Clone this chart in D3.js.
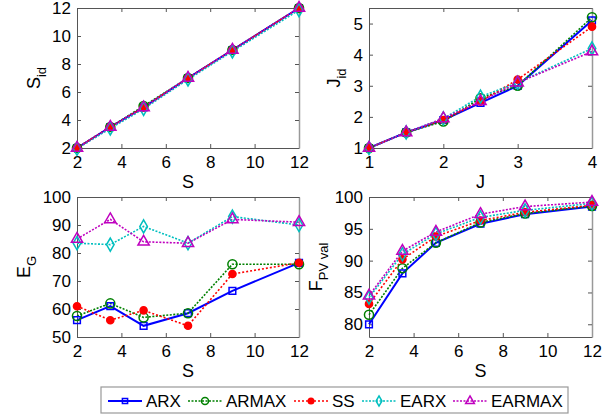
<!DOCTYPE html>
<html>
<head>
<meta charset="utf-8">
<script src="https://cdn.jsdelivr.net/npm/d3@7"></script>
<style>
  body { margin: 0; background: #fff; }
  text { font-family: "Liberation Sans", Arial, sans-serif; fill: #000; }
</style>
</head>
<body>
<div id="wrapper"></div>
<script>
// series names
const names = ["ARX", "ARMAX", "SS", "EARX", "EARMAX"]

// x values
const sVals = [2, 3.5, 5, 7, 9, 12]
const jVals = [1, 1.5, 2, 2.5, 3, 4]

// S_id vs S
const sid = [
  [2, 3.5, 4.9, 7, 9, 12],
  [2, 3.5, 5, 7, 9, 12],
  [2, 3.5, 4.9, 7, 9, 12],
  [1.95, 3.4, 4.8, 6.9, 8.9, 11.85],
  [2, 3.5, 4.9, 7, 9, 12],
]

// J_id vs J
const jid = [
  [1, 1.5, 1.9, 2.45, 3.0, 5.1],
  [1, 1.5, 1.85, 2.6, 3.0, 5.2],
  [1, 1.5, 1.9, 2.5, 3.2, 4.9],
  [1, 1.5, 1.95, 2.65, 3.1, 4.2],
  [1, 1.5, 1.95, 2.5, 3.1, 4.1],
]

// E_G vs S
const eg = [
  [56, 61, 54, 58.5, 66.5, 76.5],
  [57.5, 62, 57, 58.5, 76, 76],
  [61, 56, 59.5, 54, 72.5, 76.5],
  [83.5, 83, 89.5, 83.5, 93, 90],
  [85, 92, 84, 83.5, 92, 91],
]

// F_PV val vs S
const fpv = [
  [80, 88, 92.8, 95.8, 97.3, 98.5],
  [81.5, 88.8, 92.8, 96, 97.4, 98.6],
  [83.2, 90.2, 93.8, 96.3, 97.6, 98.7],
  [84.2, 91, 94.2, 96.8, 97.9, 99],
  [84.5, 91.5, 94.5, 97.3, 98.5, 99.2],
]

const colors = ["#0000ff", "#008000", "#ff0000", "#00bfbf", "#bf00bf"]
const dashes = [null, "2,1.5", "2,2", "2,1.5", "2,1.5"]
const symbols = [d3.symbolSquare, d3.symbolCircle, d3.symbolCircle, d3.symbolDiamond, d3.symbolTriangle]
const symSize = [45, 65, 40, 50, 55]
const symFilled = [false, false, true, false, false]

const width = 614
const height = 418

const svg = d3.select("#wrapper").append("svg")
  .attr("width", width)
  .attr("height", height)

const fmt = d3.format("d")

function drawPanel(opts) {
  const { left, right, top, bottom, xDomain, yDomain, xTicks, yTicks, xs, data, xLabel, yLabel, ySub, yLabelX } = opts

  const xScale = d3.scaleLinear().domain(xDomain).range([left, right])
  const yScale = d3.scaleLinear().domain(yDomain).range([bottom, top])

  const g = svg.append("g")

  // ticks inward, matlab style
  const xAxis = g.append("g")
    .attr("transform", `translate(0,${bottom})`)
    .call(d3.axisBottom(xScale).tickValues(xTicks).tickFormat(fmt).tickSizeInner(-4).tickSizeOuter(0).tickPadding(8))
  const xAxisTop = g.append("g")
    .attr("transform", `translate(0,${top})`)
    .call(d3.axisTop(xScale).tickValues(xTicks).tickSizeInner(-4).tickSizeOuter(0).tickFormat(""))
  const yAxis = g.append("g")
    .attr("transform", `translate(${left},0)`)
    .call(d3.axisLeft(yScale).tickValues(yTicks).tickFormat(fmt).tickSizeInner(-4).tickSizeOuter(0).tickPadding(6))
  const yAxisRight = g.append("g")
    .attr("transform", `translate(${right},0)`)
    .call(d3.axisRight(yScale).tickValues(yTicks).tickSizeInner(-4).tickSizeOuter(0).tickFormat(""))

  ;[xAxis, xAxisTop, yAxis, yAxisRight].forEach(a => {
    a.select(".domain").attr("stroke", "#555").attr("stroke-width", 1)
    a.selectAll(".tick line").attr("stroke", "#555")
    a.selectAll("text").attr("font-size", 17).attr("fill", "#000")
      .style("font-family", '"Liberation Sans", Arial, sans-serif')
  })
  yAxisRight.select(".domain").attr("stroke", "#999").attr("stroke-width", 1.5)

  const line = d3.line()
    .x((d, i) => xScale(xs[i]))
    .y(d => yScale(d))

  data.forEach((series, k) => {
    g.append("path")
      .datum(series)
      .attr("d", line)
      .attr("fill", "none")
      .attr("stroke", colors[k])
      .attr("stroke-width", k === 0 ? 2 : 1.6)
      .attr("stroke-dasharray", dashes[k])
  })
  data.forEach((series, k) => {
    g.selectAll(null)
      .data(series)
      .join("path")
      .attr("transform", (d, i) => `translate(${xScale(xs[i])},${yScale(d)})`)
      .attr("d", d3.symbol().type(symbols[k]).size(symSize[k]))
      .attr("fill", symFilled[k] ? colors[k] : "none")
      .attr("stroke", colors[k])
      .attr("stroke-width", 1.5)
  })

  // x label
  g.append("text")
    .attr("x", (left + right) / 2)
    .attr("y", bottom + 40)
    .attr("text-anchor", "middle")
    .attr("font-size", 18)
    .text(xLabel)

  // y label, rotated, with subscript
  const yl = g.append("text")
    .attr("transform", `translate(${yLabelX},${(top + bottom) / 2}) rotate(-90)`)
    .attr("text-anchor", "middle")
    .attr("font-size", 18)
  yl.append("tspan").text(yLabel)
  yl.append("tspan").attr("font-size", 13).attr("dy", 6).text(ySub)
}

drawPanel({
  left: 77, right: 299, top: 8, bottom: 148,
  xDomain: [2, 12], yDomain: [2, 12],
  xTicks: [2, 4, 6, 8, 10, 12], yTicks: [2, 4, 6, 8, 10, 12],
  xs: sVals, data: sid, xLabel: "S", yLabel: "S", ySub: "id", yLabelX: 40,
})

drawPanel({
  left: 369, right: 592, top: 8, bottom: 148,
  xDomain: [1, 4], yDomain: [1, 5.5],
  xTicks: [1, 2, 3, 4], yTicks: [1, 2, 3, 4, 5],
  xs: jVals, data: jid, xLabel: "J", yLabel: "J", ySub: "id", yLabelX: 340,
})

drawPanel({
  left: 77, right: 299, top: 197, bottom: 337,
  xDomain: [2, 12], yDomain: [50, 100],
  xTicks: [2, 4, 6, 8, 10, 12], yTicks: [50, 60, 70, 80, 90, 100],
  xs: sVals, data: eg, xLabel: "S", yLabel: "E", ySub: "G", yLabelX: 30,
})

drawPanel({
  left: 369, right: 592, top: 197, bottom: 337,
  xDomain: [2, 12], yDomain: [78, 100],
  xTicks: [2, 4, 6, 8, 10, 12], yTicks: [80, 85, 90, 95, 100],
  xs: sVals, data: fpv, xLabel: "S", yLabel: "F", ySub: "PV val", yLabelX: 322,
})

// legend
const legend = svg.append("g")
legend.append("rect")
  .attr("x", 101).attr("y", 387).attr("width", 467).attr("height", 26)
  .attr("fill", "#fff").attr("stroke", "#999").attr("stroke-width", 1.2)

const legendX = [108, 188, 294, 362, 453]
names.forEach((name, k) => {
  const x0 = legendX[k]
  const y0 = 401
  legend.append("line")
    .attr("x1", x0).attr("x2", x0 + 34)
    .attr("y1", y0).attr("y2", y0)
    .attr("stroke", colors[k])
    .attr("stroke-width", k === 0 ? 2 : 1.6)
    .attr("stroke-dasharray", dashes[k])
  legend.append("path")
    .attr("transform", `translate(${x0 + 17},${y0})`)
    .attr("d", d3.symbol().type(symbols[k]).size(symSize[k] * 0.6))
    .attr("fill", symFilled[k] ? colors[k] : "none")
    .attr("stroke", colors[k])
    .attr("stroke-width", 1.5)
  legend.append("text")
    .attr("x", x0 + 38)
    .attr("y", y0 + 6)
    .attr("font-size", 17)
    .text(name)
})
</script>
</body>
</html>
